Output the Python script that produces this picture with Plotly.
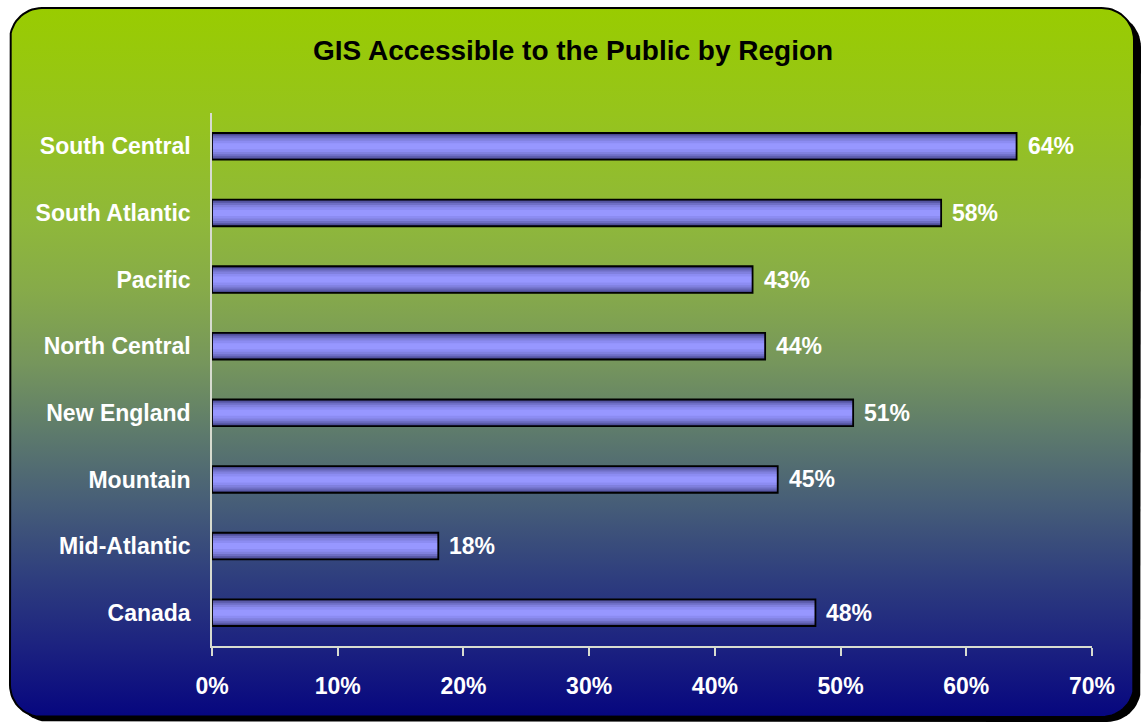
import numpy as np
import plotly.graph_objects as go

# Survey results: share of GIS data accessible to the public, by region
regions = ["South Central", "South Atlantic", "Pacific", "North Central",
           "New England", "Mountain", "Mid-Atlantic", "Canada"]
pct_public = [64, 58, 43, 44, 51, 45, 18, 48]
x_ticks = [0, 10, 20, 30, 40, 50, 60, 70]
x_tick_labels = ["0%", "10%", "20%", "30%", "40%", "50%", "60%", "70%"]

W, H = 1145, 723
FONT = "Liberation Sans, Arial, sans-serif"


def rounded_rect(x0, y0, x1, y1, r, n=16):
    """Polygon outline of a rounded rectangle in pixel space (y downwards)."""
    pts = []
    corners = [(x1 - r, y0 + r, -90, 0), (x1 - r, y1 - r, 0, 90),
               (x0 + r, y1 - r, 90, 180), (x0 + r, y0 + r, 180, 270)]
    for cx, cy, a0, a1 in corners:
        for a in np.linspace(np.radians(a0), np.radians(a1), n):
            pts.append((cx + r * np.cos(a), cy + r * np.sin(a)))
    pts.append(pts[0])
    xs = [p[0] for p in pts]
    ys = [H - p[1] for p in pts]  # background axis has y pointing up
    return xs, ys


fig = go.Figure()

# Drop shadow of the chart frame
sx, sy = rounded_rect(15, 13, 1141, 722, 34)
fig.add_trace(go.Scatter(x=sx, y=sy, mode="lines", fill="toself",
                         fillcolor="black", line=dict(color="black", width=0),
                         hoverinfo="skip", showlegend=False,
                         xaxis="x", yaxis="y"))

# Frame with vertical green-to-navy gradient
bx, by = rounded_rect(10, 8, 1134, 717, 32)
fig.add_trace(go.Scatter(
    x=bx, y=by, mode="lines", fill="toself",
    fillgradient=dict(type="vertical", colorscale=[
        [0.00, "#06067f"],
        [0.10, "#1c2280"],
        [0.20, "#2f3f7e"],
        [0.30, "#465d78"],
        [0.40, "#5d7a6c"],
        [0.50, "#76965c"],
        [0.60, "#86aa4a"],
        [0.70, "#8fb83a"],
        [0.85, "#96c41c"],
        [1.00, "#99cc00"],
    ]),
    line=dict(color="black", width=2),
    hoverinfo="skip", showlegend=False, xaxis="x", yaxis="y"))

# Bars: stacked overlay layers give the rounded, shaded look
layers = [(0.40, "#45458a"), (0.35, "#5a5aa8"), (0.30, "#6e6ec4"),
          (0.24, "#8080de"), (0.17, "#8c8cf2"), (0.09, "#9797ff")]
for width, color in layers:
    fig.add_trace(go.Bar(y=regions, x=pct_public, orientation="h",
                         width=width, marker=dict(color=color, line=dict(width=0)),
                         hoverinfo="skip", showlegend=False,
                         xaxis="x2", yaxis="y2"))
fig.add_trace(go.Bar(y=regions, x=pct_public, orientation="h", width=0.40,
                     marker=dict(color="rgba(0,0,0,0)",
                                 line=dict(color="black", width=1.8)),
                     showlegend=False, xaxis="x2", yaxis="y2"))

# Value labels to the right of each bar
for reg, val in zip(regions, pct_public):
    fig.add_annotation(x=val, y=reg, xref="x2", yref="y2", text=f"{val}%",
                       showarrow=False, xanchor="left", xshift=9,
                       font=dict(family=FONT, size=23, color="white", weight="bold"))

fig.add_annotation(x=0.5, y=1 - 51 / H, xref="paper", yref="paper",
                   text="GIS Accessible to the Public by Region", showarrow=False,
                   xanchor="center", yanchor="middle",
                   font=dict(family=FONT, size=28, color="black", weight="bold"))

axis_line = "#d8dcd0"
fig.update_layout(
    width=W, height=H,
    margin=dict(l=0, r=0, t=0, b=0, autoexpand=False),
    paper_bgcolor="white", plot_bgcolor="rgba(0,0,0,0)",
    barmode="overlay",
    xaxis=dict(domain=[0, 1], range=[0, W], visible=False, fixedrange=True),
    yaxis=dict(domain=[0, 1], range=[0, H], visible=False, fixedrange=True),
    xaxis2=dict(domain=[212 / W, 1092 / W], anchor="y2", range=[0, 70],
                tickvals=x_ticks, ticktext=x_tick_labels,
                showgrid=False, zeroline=False, automargin=False,
                showline=True, linecolor=axis_line, linewidth=1.5,
                ticks="outside", ticklen=8, tickcolor=axis_line, tickwidth=1.5,
                ticklabelstandoff=11,
                tickfont=dict(family=FONT, size=23, color="white", weight="bold")),
    yaxis2=dict(domain=[(H - 646) / H, (H - 113) / H], anchor="x2",
                categoryorder="array", categoryarray=regions[::-1],
                showgrid=False, zeroline=False, automargin=False,
                showline=True, linecolor=axis_line, linewidth=1.5,
                ticks="", ticklabelstandoff=15,
                tickfont=dict(family=FONT, size=23, color="white", weight="bold")),
)

fig.write_html("out.html")
